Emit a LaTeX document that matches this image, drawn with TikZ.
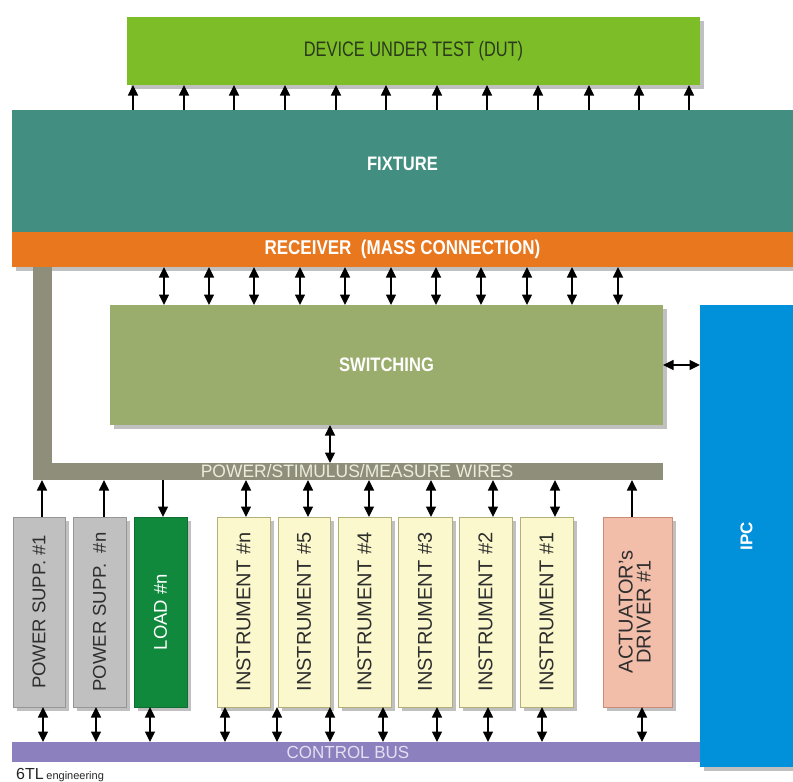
\documentclass[tikz,border=0pt]{standalone}
\usepackage{fontspec}
\setmainfont{Liberation Sans}
\newfontfamily\condA[FakeStretch=0.78]{Liberation Sans}
\newfontfamily\condB[FakeStretch=0.85]{Liberation Sans}
\newfontfamily\condC[FakeStretch=0.97]{Liberation Sans}
\usetikzlibrary{arrows.meta,shadows}
\definecolor{dutgreen}{HTML}{7DBE28}
\definecolor{dutText}{HTML}{2A3A1C}
\definecolor{fixteal}{HTML}{428E80}
\definecolor{recorange}{HTML}{E8771E}
\definecolor{swgreen}{HTML}{9BAD6C}
\definecolor{wiregray}{HTML}{8E8E7A}
\definecolor{ipcblue}{HTML}{0091DA}
\definecolor{buspurple}{HTML}{8C80BE}
\definecolor{psgray}{HTML}{C0C0C0}
\definecolor{psborder}{HTML}{969696}
\definecolor{loadgreen}{HTML}{10893C}
\definecolor{instfill}{HTML}{FAF8CC}
\definecolor{instborder}{HTML}{B4AF78}
\definecolor{actfill}{HTML}{F2BEAA}
\definecolor{actborder}{HTML}{C88C78}
\definecolor{wiretext}{HTML}{ECECDC}
\definecolor{bustext}{HTML}{E4E0F2}
\definecolor{boxtext}{HTML}{2E2E2E}
\begin{document}
\begin{tikzpicture}[x=1pt,y=-1pt,
  blk/.style={rectangle, inner sep=0pt, outer sep=0pt, anchor=north west},
  shad/.style={drop shadow={shadow xshift=4pt, shadow yshift=-4pt, opacity=0.35, fill=black!70}},
  vbox/.style={blk, shad, minimum width=#1, minimum height=190pt, line width=0.8pt},
  psbox/.style={vbox=#1, fill=psgray, draw=psborder, text=boxtext},
  instbox/.style={vbox=#1, fill=instfill, draw=instborder, text=boxtext},
  vtext/.style={font=\fontsize{18.5}{20}\selectfont},
  itext/.style={font=\fontsize{20}{21}\selectfont},
  tip/.tip={Triangle[length=10.5pt,width=10pt]},
  uparr/.style={line width=1.7pt, -tip},
  dblarr/.style={line width=1.7pt, tip-tip}
]
\useasboundingbox (0,0) rectangle (793,782);
\fill[white] (0,0) rectangle (793,782);

% DUT
\node[blk, shad, fill=dutgreen, minimum width=573pt, minimum height=68pt,
      text=dutText, font=\condA\fontsize{21}{22}\selectfont] (dut) at (127,17) {DEVICE UNDER TEST (DUT)};

% Fixture + receiver
\node[blk, shad, fill=recorange, minimum width=781pt, minimum height=35pt,
      text=white, font=\condB\bfseries\fontsize{20}{22}\selectfont] (rec) at (12,232) {RECEIVER\ \ (MASS CONNECTION)};
\node[blk, fill=fixteal, minimum width=781pt, minimum height=122pt,
      text=white, font=\condB\bfseries\fontsize{19.5}{22}\selectfont] (fix) at (12,110) {\raisebox{1pt}[0pt][0pt]{FIXTURE}};

% Wires (L shape)
\node[blk, fill=wiregray, minimum width=19pt, minimum height=213pt] (wiresv) at (33,267) {};
\node[blk, fill=wiregray, minimum width=630pt, minimum height=17pt,
      text=wiretext, font=\condC\fontsize{18}{19}\selectfont] (wires) at (33,463) {\hspace*{9pt}POWER/STIMULUS/MEASURE WIRES\hspace*{-9pt}};

% Switching
\node[blk, shad, fill=swgreen, minimum width=553pt, minimum height=120pt,
      text=white, font=\condB\bfseries\fontsize{19.5}{22}\selectfont] (sw) at (110,305) {SWITCHING};

% IPC
\node[blk, shad, fill=ipcblue, minimum width=93pt, minimum height=462pt,
      text=white, font=\bfseries\fontsize{17}{18}\selectfont] (ipc) at (700,305) {\rotatebox{90}{IPC}};

% Control bus
\node[blk, fill=buspurple, minimum width=688pt, minimum height=20pt,
      text=bustext, font=\condC\fontsize{17.5}{18}\selectfont] (bus) at (12,742) {CONTROL BUS\hspace*{16pt}};

% Bottom boxes
\node[psbox=52pt, vtext] (ps1) at (13,517) {\rotatebox{90}{POWER SUPP. \#1}};
\node[psbox=53pt, vtext] (psn) at (73,517) {\rotatebox{90}{POWER SUPP. \ \#n}};
\node[vbox=53pt, fill=loadgreen, draw=loadgreen!80!black, text=white, vtext] (load) at (134,517) {\rotatebox{90}{LOAD \#n}};
\node[instbox=53pt, itext] (inn) at (217,517) {\rotatebox{90}{INSTRUMENT \#n}};
\node[instbox=52pt, itext] (in5) at (278,517) {\rotatebox{90}{INSTRUMENT \#5}};
\node[instbox=53pt, itext] (in4) at (338,517) {\rotatebox{90}{INSTRUMENT \#4}};
\node[instbox=54pt, itext] (in3) at (398,517) {\rotatebox{90}{INSTRUMENT \#3}};
\node[instbox=53pt, itext] (in2) at (459,517) {\rotatebox{90}{INSTRUMENT \#2}};
\node[instbox=53pt, itext] (in1) at (520,517) {\rotatebox{90}{INSTRUMENT \#1}};
\node[vbox=69pt, fill=actfill, draw=actborder, text=boxtext, itext] (act) at (603,517)
  {\rotatebox{90}{\begin{tabular}{@{}c@{}}ACTUATOR's\\[-3pt]DRIVER \#1\end{tabular}}};

% Fixture -> DUT arrows
\foreach \x in {133,184,234,285,336,386,437,487,538,589,639,689}
  \draw[uparr] (\x,0 |- fix.north) -- (\x,0 |- dut.south);

% Receiver <-> Switching
\foreach \x in {164,209,254,300,345,391,436,481,527,572,618}
  \draw[dblarr] (\x,0 |- rec.south) -- (\x,0 |- sw.north);

% Switching <-> IPC
\draw[dblarr] (sw.east) -- (sw.east -| ipc.west);
% Switching <-> wires
\draw[dblarr] (330,0 |- sw.south) -- (330,0 |- wires.north);

% Boxes -> wires
\draw[uparr] (42,0 |- ps1.north) -- (42,0 |- wires.south);
\draw[uparr] (104,0 |- psn.north) -- (104,0 |- wires.south);
\draw[uparr] (163,0 |- wires.south) -- (163,0 |- load.north);
\draw[dblarr] (246,0 |- inn.north) -- (246,0 |- wires.south);
\draw[dblarr] (308,0 |- in5.north) -- (308,0 |- wires.south);
\draw[dblarr] (369,0 |- in4.north) -- (369,0 |- wires.south);
\draw[dblarr] (431,0 |- in3.north) -- (431,0 |- wires.south);
\draw[dblarr] (493,0 |- in2.north) -- (493,0 |- wires.south);
\draw[dblarr] (555,0 |- in1.north) -- (555,0 |- wires.south);
\draw[uparr] (632,0 |- act.north) -- (632,0 |- wires.south);

% Boxes <-> control bus
\draw[dblarr] (43,0 |- ps1.south) -- (43,0 |- bus.north);
\draw[dblarr] (96,0 |- psn.south) -- (96,0 |- bus.north);
\draw[dblarr] (150,0 |- load.south) -- (150,0 |- bus.north);
\draw[dblarr] (225,0 |- inn.south) -- (225,0 |- bus.north);
\draw[dblarr] (277,0 |- in5.south) -- (277,0 |- bus.north);
\draw[dblarr] (330,0 |- in5.south) -- (330,0 |- bus.north);
\draw[dblarr] (383,0 |- in4.south) -- (383,0 |- bus.north);
\draw[dblarr] (437,0 |- in3.south) -- (437,0 |- bus.north);
\draw[dblarr] (488,0 |- in2.south) -- (488,0 |- bus.north);
\draw[dblarr] (542,0 |- in1.south) -- (542,0 |- bus.north);
\draw[dblarr] (642,0 |- act.south) -- (642,0 |- bus.north);

% Logo text
\node[anchor=base west, inner sep=0pt, text=black!85] (logo) at (16,779)
  {\fontsize{16}{17}\selectfont 6TL\,\fontsize{11}{12}\selectfont engineering};
\end{tikzpicture}
\end{document}
